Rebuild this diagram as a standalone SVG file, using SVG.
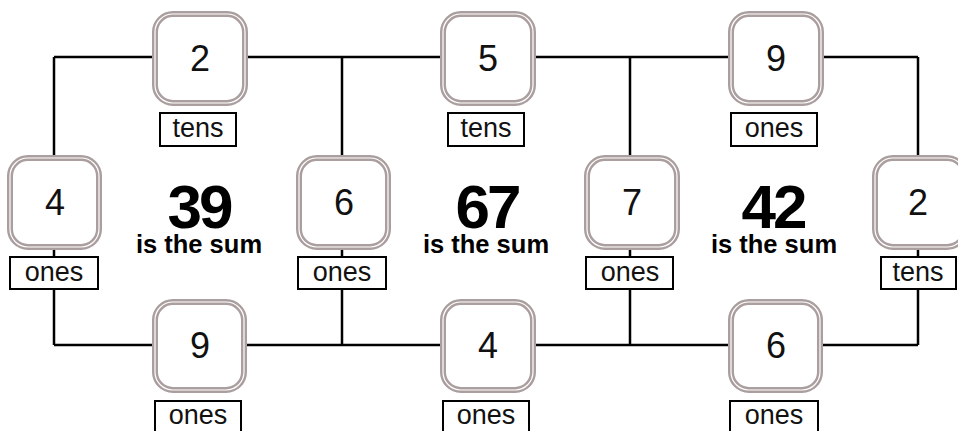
<svg xmlns="http://www.w3.org/2000/svg" width="958" height="431" viewBox="0 0 958 431">
<style>
.bo{fill:#fff;stroke:#aa9e9e;stroke-width:6}
.bi{fill:none;stroke:#fff;stroke-width:1.2}
.lb{fill:#fff;stroke:#000;stroke-width:2}
.num{font-family:"Liberation Sans",Arial,sans-serif;font-size:36px;fill:#111;text-anchor:middle}
.lt{font-family:"Liberation Sans",Arial,sans-serif;font-size:27px;fill:#111;text-anchor:middle}
.big{font-family:"Liberation Sans",Arial,sans-serif;font-weight:bold;font-size:62px;fill:#000;text-anchor:middle;letter-spacing:-3px}
.sum{font-family:"Liberation Sans",Arial,sans-serif;font-weight:bold;font-size:25.5px;fill:#000;text-anchor:middle}
.ln{fill:none;stroke:#000;stroke-width:2.5}
</style>
<rect width="958" height="431" fill="#fff"/>
<g id="connectors">
<path class="ln" d="M54 57H918M54 345H918M54 57V345M342 57V345M630 57V345M918 57V345"/>
</g>
<g id="top-2"><rect class="bo" x="155" y="14" width="90" height="89" rx="18"/><rect class="bi" x="155" y="14" width="90" height="89" rx="18"/><text class="num" x="200" y="71">2</text><rect class="lb" x="160" y="113" width="76" height="33"/><text class="lt" x="198" y="137">tens</text></g>
<g id="top-5"><rect class="bo" x="443" y="14" width="90" height="89" rx="18"/><rect class="bi" x="443" y="14" width="90" height="89" rx="18"/><text class="num" x="488" y="71">5</text><rect class="lb" x="448" y="113" width="76" height="33"/><text class="lt" x="486" y="137">tens</text></g>
<g id="top-9"><rect class="bo" x="731" y="14" width="90" height="89" rx="18"/><rect class="bi" x="731" y="14" width="90" height="89" rx="18"/><text class="num" x="776" y="71">9</text><rect class="lb" x="731" y="113" width="86" height="33"/><text class="lt" x="774" y="137">ones</text></g>
<g id="mid-4"><rect class="bo" x="10" y="158" width="89" height="89" rx="18"/><rect class="bi" x="10" y="158" width="89" height="89" rx="18"/><text class="num" x="55" y="215">4</text><rect class="lb" x="10" y="257" width="88" height="32"/><text class="lt" x="54" y="281">ones</text></g>
<g id="mid-6"><rect class="bo" x="299" y="158" width="89" height="89" rx="18"/><rect class="bi" x="299" y="158" width="89" height="89" rx="18"/><text class="num" x="344" y="215">6</text><rect class="lb" x="298" y="257" width="88" height="32"/><text class="lt" x="342" y="281">ones</text></g>
<g id="mid-7"><rect class="bo" x="587" y="158" width="90" height="89" rx="18"/><rect class="bi" x="587" y="158" width="90" height="89" rx="18"/><text class="num" x="632" y="215">7</text><rect class="lb" x="586" y="257" width="87" height="32"/><text class="lt" x="630" y="281">ones</text></g>
<g id="mid-2"><rect class="bo" x="875" y="158" width="90" height="89" rx="18"/><rect class="bi" x="875" y="158" width="90" height="89" rx="18"/><text class="num" x="918" y="215">2</text><rect class="lb" x="881" y="257" width="75" height="32"/><text class="lt" x="918" y="281">tens</text></g>
<g id="bot-9"><rect class="bo" x="155" y="302" width="89" height="88" rx="18"/><rect class="bi" x="155" y="302" width="89" height="88" rx="18"/><text class="num" x="200" y="358">9</text><rect class="lb" x="155" y="401" width="86" height="34"/><text class="lt" x="198" y="424">ones</text></g>
<g id="bot-4"><rect class="bo" x="443" y="302" width="90" height="88" rx="18"/><rect class="bi" x="443" y="302" width="90" height="88" rx="18"/><text class="num" x="488" y="358">4</text><rect class="lb" x="443" y="401" width="86" height="34"/><text class="lt" x="486" y="424">ones</text></g>
<g id="bot-6"><rect class="bo" x="731" y="302" width="89" height="88" rx="18"/><rect class="bi" x="731" y="302" width="89" height="88" rx="18"/><text class="num" x="776" y="358">6</text><rect class="lb" x="730" y="401" width="88" height="34"/><text class="lt" x="774" y="424">ones</text></g>
<g id="sum-39"><text class="big" x="199" y="228">39</text><text class="sum" x="199" y="253">is the sum</text></g>
<g id="sum-67"><text class="big" x="487" y="228">67</text><text class="sum" x="486" y="253">is the sum</text></g>
<g id="sum-42"><text class="big" x="773" y="228">42</text><text class="sum" x="774" y="253">is the sum</text></g>
</svg>
